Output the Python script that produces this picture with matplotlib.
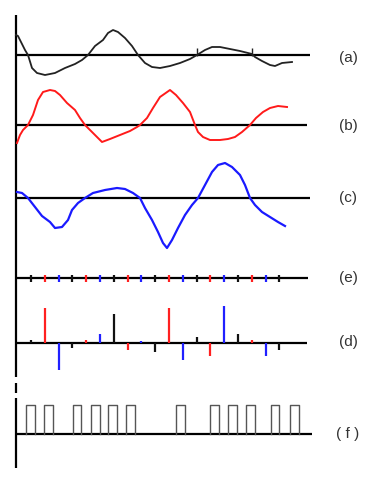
import matplotlib.pyplot as plt
import numpy as np

# signal traces, x = sample position, values = amplitude above the zero line
a_x = [16, 18, 20, 22, 25, 28, 32, 37, 45, 55, 65, 75, 82, 88, 95, 103, 108, 113,
       118, 125, 132, 138, 145, 152, 160, 170, 180, 190, 197, 205, 212, 220, 230,
       240, 252, 255, 262, 270, 275, 282, 292]
a_y = [20, 19, 15, 11, 5, 0, -13, -18, -20, -18, -13, -9, -5, 0, 9, 15, 22, 25,
       23, 17, 9, 0, -8, -12, -13, -11, -8, -4, 0, 5, 8, 8, 6,
       4, 1, -2, -6, -10, -11, -8, -7]

b_x = [17, 20, 23, 28, 33, 38, 43, 50, 55, 60, 67, 75, 80, 85, 92, 102, 110, 120,
       130, 137, 140, 147, 153, 160, 170, 176, 183, 190, 195, 198, 203, 210, 220,
       228, 235, 242, 250, 256, 263, 270, 278, 287]
b_y = [-18, -10, -5, 0, 10, 25, 33, 35, 34, 30, 22, 15, 7, 0, -7, -17, -14, -10,
       -6, -2, 0, 7, 17, 28, 35, 30, 22, 13, 0, -7, -12, -15, -15,
       -14, -12, -7, 0, 7, 13, 17, 19, 18]

c_x = [17, 22, 28, 35, 42, 50, 55, 62, 68, 72, 78, 85, 93, 105, 117, 125, 133, 140,
       145, 152, 158, 163, 167, 172, 178, 185, 192, 198, 205, 212, 218, 225, 232,
       240, 245, 250, 255, 262, 270, 278, 285]
c_y = [6, 5, 0, -9, -18, -24, -30, -29, -22, -12, -5, 0, 5, 8, 10, 9, 5, 0,
       -10, -22, -34, -45, -50, -42, -30, -17, -7, 0, 13, 26, 33, 35, 31,
       23, 13, 0, -7, -14, -19, -24, -28]

# sample instants and colour cycle for (e) and (d)
n_samples = 19
sample_colors = ['black', 'red', 'blue']
d_vals = [3, 35, -27, -5, 3, 9, 29, -7, 2.5, -9, 35, -17, 6, -13, 37, 9, 3, -13, -7]

# pulse train (f): start positions of each pulse
f_starts = [26, 44.3, 72.7, 91, 108.3, 126, 176, 210, 228.3, 246, 270.7, 290]
f_width = 8.5

labels = ['(a)', '(b)', '(c)', '(e)', '(d)', '( f )']

fig = plt.figure(figsize=(3.85, 4.8), dpi=100)
ax = fig.add_axes([0, 0, 1, 1])
ax.set_xlim(0, 385)
ax.set_ylim(480, 0)
ax.axis('off')

axis_lw = 1.6
base_a, base_b, base_c, base_e, base_d, base_f = 55, 125, 198, 278, 343, 434

# left vertical axis, broken near the bottom
ax.plot([16, 16], [15, 377], color='black', lw=axis_lw, solid_capstyle='butt')
ax.plot([16, 16], [383, 393], color='black', lw=axis_lw, solid_capstyle='butt')
ax.plot([16, 16], [398, 468], color='black', lw=axis_lw, solid_capstyle='butt')

# zero lines
for base, xend in [(base_a, 310), (base_b, 307), (base_c, 310),
                   (base_e, 308), (base_d, 307), (base_f, 312)]:
    ax.plot([16, xend], [base, base], color='black', lw=axis_lw, solid_capstyle='butt')

ax.plot(a_x, base_a - np.array(a_y), color='#222222', lw=1.3)
ax.vlines([197, 252], base_a - 7, base_a + 1, color='#222222', lw=1.0)
ax.plot(b_x, base_b - np.array(b_y), color='#ff1a1a', lw=1.4)
ax.plot(c_x, base_c - np.array(c_y), color='#1a1aff', lw=1.6)

sx = 31 + 13.8 * np.arange(n_samples)
cols = [sample_colors[i % 3] for i in range(n_samples)]
cols = ['#111111' if c == 'black' else ('#ff2020' if c == 'red' else '#2020ff') for c in cols]

# (e) sample markers
ax.vlines(sx, base_e - 3.5, base_e + 4, colors=cols, lw=1.6)

# (d) stems
ax.vlines(sx, base_d, base_d - np.array(d_vals), colors=cols, lw=1.6)

# (f) pulses
for s in f_starts:
    ax.plot([s, s, s + f_width, s + f_width], [base_f, 405, 405, base_f],
            color='#555555', lw=1.0)

label_y = [58, 126, 198, 278, 342, 434]
for lab, y in zip(labels, label_y):
    ax.text(348, y, lab, ha='center', va='center', fontsize=11,
            family='Liberation Sans', color='#333333')

fig.savefig('out.png', dpi=100)
